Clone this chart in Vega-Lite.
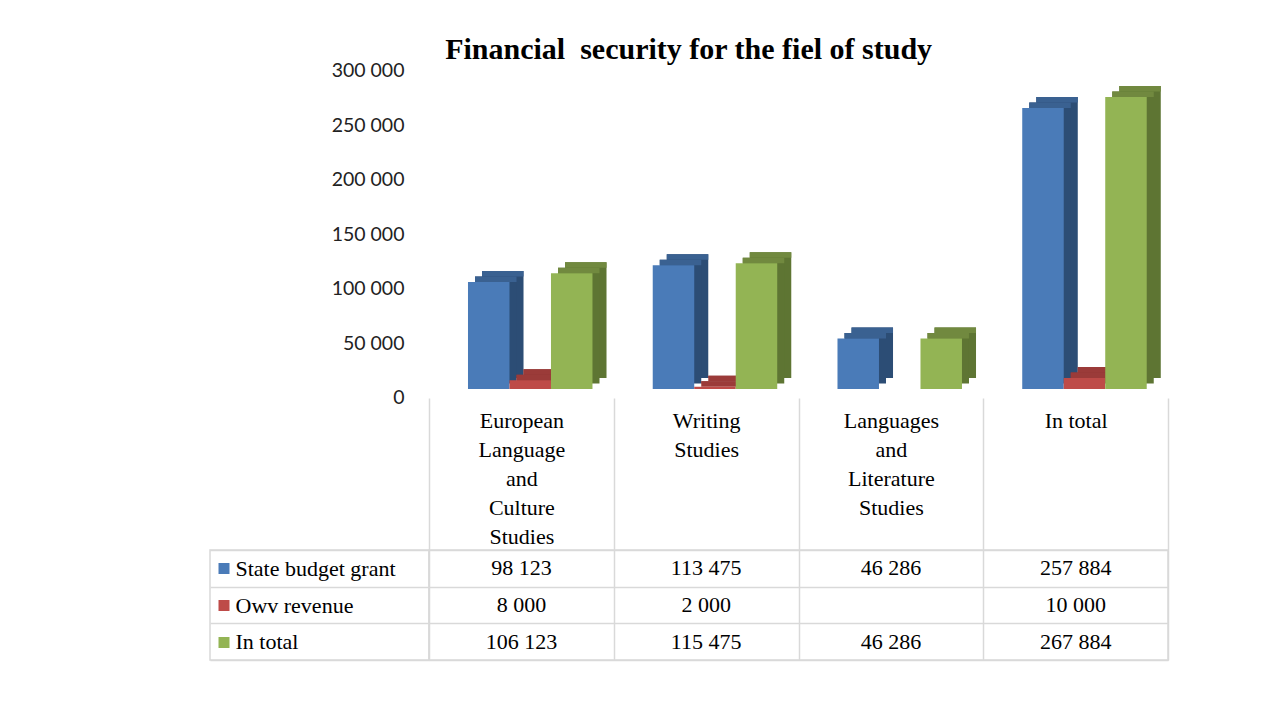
{
  "$schema": "https://vega.github.io/schema/vega-lite/v6.json",
  "background": "white",
  "padding": {"left": 208, "top": 34, "right": 10, "bottom": 10},
  "title": {"text": "Financial\u00a0 security for the fiel of study", "font": "Liberation Serif", "fontSize": 30, "fontWeight": "bold", "color": "black", "anchor": "middle", "offset": -4},
  "data": {"values": [
    {"category": "European Language and Culture Studies", "series": "State budget grant", "value": 98123},
    {"category": "European Language and Culture Studies", "series": "Owv revenue", "value": 8000},
    {"category": "European Language and Culture Studies", "series": "In total", "value": 106123},
    {"category": "Writing Studies", "series": "State budget grant", "value": 113475},
    {"category": "Writing Studies", "series": "Owv revenue", "value": 2000},
    {"category": "Writing Studies", "series": "In total", "value": 115475},
    {"category": "Languages and Literature Studies", "series": "State budget grant", "value": 46286},
    {"category": "Languages and Literature Studies", "series": "In total", "value": 46286},
    {"category": "In total", "series": "State budget grant", "value": 257884},
    {"category": "In total", "series": "Owv revenue", "value": 10000},
    {"category": "In total", "series": "In total", "value": 267884}
  ]},
  "columns": 2,
  "bounds": "flush",
  "spacing": {"row": 161, "column": 0},
  "resolve": {"scale": {"x": "independent", "y": "independent", "color": "independent", "xOffset": "independent"}},
  "concat": [
    {
      "width": 219, "height": 327,
      "view": {"stroke": null},
      "mark": {"type": "text", "text": ""},
      "encoding": {}
    },
    {
      "width": 739, "height": 327,
      "view": {"stroke": null},
      "resolve": {"scale": {"color": "independent", "xOffset": "independent"}},
      "layer": [
        {
          "mark": {"type": "bar", "yOffset": -11, "y2Offset": -11},
          "encoding": {
            "x": {"field": "category", "type": "nominal", "scale": {"type": "band", "paddingInner": 0, "paddingOuter": 0, "domain": ["European Language and Culture Studies", "Writing Studies", "Languages and Literature Studies", "In total"]},
              "axis": {"orient": "bottom", "offset": 9, "title": null, "domain": false, "ticks": true, "tickBand": "extent", "tickSize": 152, "tickColor": "#d9d9d9", "tickWidth": 1.5, "grid": false, "labelAngle": 0, "labelExpr": "datum.label == 'In total' ? datum.label : split(datum.label, ' ')", "labelFont": "Liberation Serif", "labelFontSize": 22, "labelLineHeight": 29, "labelColor": "black", "labelPadding": -140, "labelBaseline": "top", "labelLimit": 0, "labelOverlap": false}},
            "xOffset": {"field": "series", "type": "nominal", "scale": {"domain": ["State budget grant", "Owv revenue", "In total"], "paddingInner": 0, "paddingOuter": 0.726, "align": 0.88}},
            "y": {"field": "value", "type": "quantitative", "scale": {"domain": [0, 300000], "nice": false, "zero": true},
              "axis": {"title": null, "domain": false, "ticks": false, "grid": false, "values": [0, 50000, 100000, 150000, 200000, 250000, 300000], "format": ",.0f", "labelFont": "Lato", "labelFontSize": 19.5, "labelColor": "#222222", "labelPadding": 25, "labelOffset": 8.5, "labelFlush": false}},
            "color": {"field": "series", "type": "nominal", "legend": null, "scale": {"domain": ["State budget grant", "Owv revenue", "In total"], "range": ["#2c4d75", "#8c3836", "#5e7533"]}}
          }
        },
        {
          "mark": {"type": "bar", "yOffset": -5.5, "y2Offset": -5.5},
          "encoding": {
            "x": {"field": "category", "type": "nominal"},
            "xOffset": {"field": "series", "type": "nominal", "scale": {"domain": ["State budget grant", "Owv revenue", "In total"], "paddingInner": 0, "paddingOuter": 0.726, "align": 0.7635}},
            "y": {"field": "value", "type": "quantitative"},
            "color": {"field": "series", "type": "nominal", "legend": null, "scale": {"domain": ["State budget grant", "Owv revenue", "In total"], "range": ["#2c4d75", "#8c3836", "#5e7533"]}}
          }
        },
        {
          "mark": {"type": "bar", "yOffset": -11, "y2Offset": -5.5},
          "encoding": {
            "x": {"field": "category", "type": "nominal"},
            "xOffset": {"field": "series", "type": "nominal", "scale": {"domain": ["State budget grant", "Owv revenue", "In total"], "paddingInner": 0, "paddingOuter": 0.726, "align": 0.88}},
            "y": {"field": "value", "type": "quantitative"},
            "y2": {"field": "value"},
            "color": {"field": "series", "type": "nominal", "legend": null, "scale": {"domain": ["State budget grant", "Owv revenue", "In total"], "range": ["#3a6191", "#9b3b39", "#71893f"]}}
          }
        },
        {
          "mark": {"type": "bar", "yOffset": -5.5, "y2Offset": 0},
          "encoding": {
            "x": {"field": "category", "type": "nominal"},
            "xOffset": {"field": "series", "type": "nominal", "scale": {"domain": ["State budget grant", "Owv revenue", "In total"], "paddingInner": 0, "paddingOuter": 0.726, "align": 0.7635}},
            "y": {"field": "value", "type": "quantitative"},
            "y2": {"field": "value"},
            "color": {"field": "series", "type": "nominal", "legend": null, "scale": {"domain": ["State budget grant", "Owv revenue", "In total"], "range": ["#3a6191", "#9b3b39", "#71893f"]}}
          }
        },
        {
          "mark": {"type": "bar"},
          "encoding": {
            "x": {"field": "category", "type": "nominal"},
            "xOffset": {"field": "series", "type": "nominal", "scale": {"domain": ["State budget grant", "Owv revenue", "In total"], "paddingInner": 0, "paddingOuter": 0.726, "align": 0.647}},
            "y": {"field": "value", "type": "quantitative"},
            "color": {"field": "series", "type": "nominal", "legend": null, "scale": {"domain": ["State budget grant", "Owv revenue", "In total"], "range": ["#4a7bb8", "#be4b48", "#93b454"]}}
          }
        }
      ]
    },
    {
      "width": 219, "height": 110,
      "view": {"stroke": "#d9d9d9", "strokeWidth": 1.5},
      "mark": {"type": "text", "text": ""},
      "encoding": {
        "y": {"field": "series", "type": "nominal", "scale": {"domain": ["State budget grant", "Owv revenue", "In total"], "paddingInner": 0, "paddingOuter": 0},
          "axis": {"orient": "left", "offset": -19, "title": null, "domain": false, "grid": false, "ticks": true, "tickSize": 11, "tickWidth": 11, "tickCap": "butt",
            "tickColor": {"condition": [{"test": "datum.value === 'State budget grant'", "value": "#4a7bb8"}, {"test": "datum.value === 'Owv revenue'", "value": "#be4b48"}], "value": "#93b454"},
            "labelAlign": "left", "labelPadding": -17, "labelFont": "Liberation Serif", "labelFontSize": 22, "labelColor": "black", "labelBaseline": "middle", "labelLimit": 0}}
      }
    },
    {
      "width": 739, "height": 110,
      "view": {"stroke": "#d9d9d9", "strokeWidth": 1.5},
      "mark": {"type": "text", "font": "Liberation Serif", "fontSize": 22, "color": "black", "baseline": "middle"},
      "encoding": {
        "x": {"field": "category", "type": "nominal", "scale": {"type": "band", "paddingInner": 0, "paddingOuter": 0, "domain": ["European Language and Culture Studies", "Writing Studies", "Languages and Literature Studies", "In total"]},
          "axis": {"orient": "bottom", "title": null, "labels": false, "ticks": false, "domain": false, "grid": true, "tickBand": "extent", "gridColor": "#d9d9d9", "gridWidth": 1.5}},
        "y": {"field": "series", "type": "nominal", "scale": {"domain": ["State budget grant", "Owv revenue", "In total"], "paddingInner": 0, "paddingOuter": 0},
          "axis": {"orient": "left", "title": null, "labels": false, "domain": false, "ticks": true, "tickBand": "extent", "tickSize": 219, "tickColor": "#d9d9d9", "tickWidth": 1.5, "grid": true, "gridColor": "#d9d9d9", "gridWidth": 1.5}},
        "text": {"field": "value", "type": "quantitative", "format": ","}
      }
    }
  ],
  "config": {
    "locale": {"number": {"decimal": ".", "thousands": " ", "grouping": [3], "currency": ["", ""]}},
    "view": {"stroke": null}
  }
}
